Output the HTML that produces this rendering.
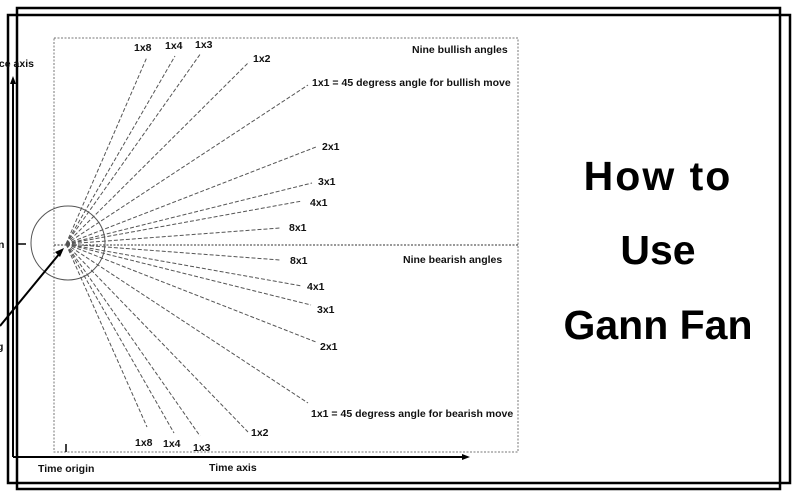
<!DOCTYPE html>
<html><head><meta charset="utf-8"><style>
html,body{margin:0;padding:0;background:#fff;}
svg{display:block;}
.l{font-family:"Liberation Sans",sans-serif;font-size:10.5px;font-weight:bold;fill:#111;}
.t{font-family:"Liberation Sans",sans-serif;font-size:41px;font-weight:bold;fill:#000;}
</style></head><body>
<svg width="800" height="500" viewBox="0 0 800 500" xmlns="http://www.w3.org/2000/svg">
<rect x="17" y="8" width="763" height="481" fill="none" stroke="#000" stroke-width="2.5"/>
<rect x="8" y="15" width="782" height="468" fill="none" stroke="#000" stroke-width="2.5"/>
<rect x="54" y="38" width="464" height="414" fill="none" stroke="#777" stroke-width="1" stroke-dasharray="2,1.5"/>
<line x1="54" y1="245" x2="518" y2="245" stroke="#333" stroke-width="1" stroke-dasharray="2,1.5"/>
<line x1="13" y1="457" x2="13" y2="82" stroke="#000" stroke-width="2"/>
<polygon points="13,76 10,84 16,84" fill="#000"/>
<line x1="13" y1="457" x2="464" y2="457" stroke="#000" stroke-width="2"/>
<polygon points="470,457 462,454 462,460" fill="#000"/>
<line x1="18" y1="244" x2="26" y2="244" stroke="#000" stroke-width="1.5"/>
<line x1="66" y1="444" x2="66" y2="452" stroke="#000" stroke-width="1.5"/>
<circle cx="68" cy="243" r="37" fill="none" stroke="#555" stroke-width="1"/>
<line x1="0" y1="326" x2="60" y2="253" stroke="#000" stroke-width="2"/>
<polygon points="64,248 55,252 60,257" fill="#000"/>
<g stroke="#555" stroke-width="1" stroke-dasharray="4,2" fill="none">
<line x1="66" y1="244" x2="147" y2="57"/>
<line x1="66" y1="244" x2="175" y2="56"/>
<line x1="66" y1="244" x2="201" y2="53"/>
<line x1="66" y1="244" x2="249" y2="62"/>
<line x1="66" y1="244" x2="308" y2="85"/>
<line x1="66" y1="244" x2="316" y2="147"/>
<line x1="66" y1="244" x2="312" y2="183"/>
<line x1="66" y1="244" x2="302" y2="201"/>
<line x1="66" y1="244" x2="280" y2="228"/>
<line x1="66" y1="244" x2="280" y2="260"/>
<line x1="66" y1="244" x2="302" y2="286"/>
<line x1="66" y1="244" x2="311" y2="305"/>
<line x1="66" y1="244" x2="316" y2="342"/>
<line x1="66" y1="244" x2="308" y2="403"/>
<line x1="66" y1="244" x2="248" y2="432"/>
<line x1="66" y1="244" x2="200" y2="436"/>
<line x1="66" y1="244" x2="174" y2="433"/>
<line x1="66" y1="244" x2="147" y2="427"/>
</g>
<text class="l" x="134" y="51">1x8</text>
<text class="l" x="165" y="49">1x4</text>
<text class="l" x="195" y="48">1x3</text>
<text class="l" x="253" y="62">1x2</text>
<text class="l" x="312" y="86">1x1 = 45 degress angle for bullish move</text>
<text class="l" x="412" y="53">Nine bullish angles</text>
<text class="l" x="322" y="150">2x1</text>
<text class="l" x="318" y="185">3x1</text>
<text class="l" x="310" y="206">4x1</text>
<text class="l" x="289" y="231">8x1</text>
<text class="l" x="403" y="263">Nine bearish angles</text>
<text class="l" x="290" y="264">8x1</text>
<text class="l" x="307" y="290">4x1</text>
<text class="l" x="317" y="313">3x1</text>
<text class="l" x="320" y="350">2x1</text>
<text class="l" x="311" y="417">1x1 = 45 degress angle for bearish move</text>
<text class="l" x="251" y="436">1x2</text>
<text class="l" x="135" y="446">1x8</text>
<text class="l" x="163" y="447">1x4</text>
<text class="l" x="193" y="451">1x3</text>
<text class="l" x="38" y="472">Time origin</text>
<text class="l" x="209" y="471">Time axis</text>
<text class="l" x="-4" y="67">ice axis</text>
<text class="l" x="-2" y="248">n</text>
<text class="l" x="-3" y="350">g</text>
<text class="t" x="658" y="190" text-anchor="middle" letter-spacing="2">How to</text>
<text class="t" x="658" y="264" text-anchor="middle">Use</text>
<text class="t" x="658" y="339" text-anchor="middle">Gann Fan</text>
</svg>
</body></html>
